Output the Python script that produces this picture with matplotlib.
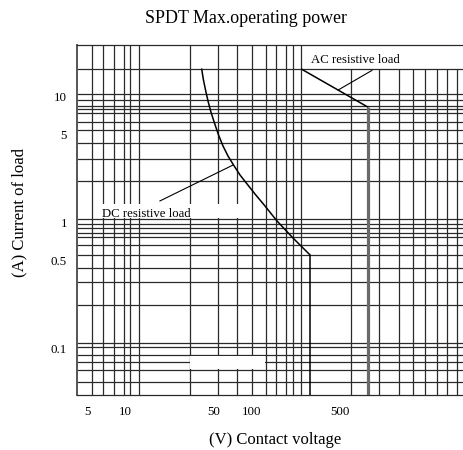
import matplotlib
matplotlib.use("Agg")
import matplotlib.pyplot as plt
from matplotlib.patches import Rectangle

plt.rcParams['font.family'] = ['Liberation Serif', 'DejaVu Serif']

title = "SPDT Max.operating power"
xlabel = "(V) Contact voltage"
ylabel = "(A) Current of load"
x_ticks = [5, 10, 50, 100, 500]
x_ticklabels = ["5", "10", "50", "100", "500"]
y_ticks = [0.1, 0.5, 1, 5, 10]
y_ticklabels = ["0.1", "0.5", "1", "5", "10"]
x_lim = (4.14, 4760)
y_lim = (0.0428, 25.7)

# vertical grid lines reaching the top border
v_grid_full = [5.44, 6.68, 8.25, 9.86, 11.0, 12.8, 32.5, 54.2, 77.7, 102,
               131.5, 158, 188, 215, 248]
# vertical grid lines starting from the upper band line
v_grid_lower = [617, 1022, 1486, 1922, 2379, 2946, 3587, 4266]
band_top = 16.5
h_grid = [16.5, 10.45, 9.42, 8.44, 7.94, 7.46, 6.33, 5.44, 4.27, 3.18, 2.15,
          1.063, 0.975, 0.902, 0.832, 0.765, 0.665, 0.554, 0.434, 0.340,
          0.222, 0.1114, 0.1024, 0.0889, 0.0787, 0.0676, 0.0546]

# DC resistive load curve
dc_v = [40.5, 41.8, 43.4, 45.4, 47.9, 51.1, 55.0, 59.7, 65.4, 72.3, 81.4,
        92.5, 106.9, 128.4, 159.8, 214.0, 292, 292]
dc_i = [16.5, 13.57, 11.31, 9.25, 7.56, 6.18, 4.97, 4.06, 3.38, 2.87, 2.39,
        2.03, 1.69, 1.356, 1.031, 0.755, 0.554, 0.0428]
# AC resistive load curve
ac_slope_v = [251, 836]
ac_slope_i = [16.5, 8.28]
ac_vert_v = [836, 836]
ac_vert_i = [8.28, 0.0428]

dc_leader_v = [18.9, 72.0]
dc_leader_i = [1.486, 2.87]
ac_leader_v = [489, 904]
ac_leader_i = [11.3, 16.15]

dc_label = ("DC resistive load", 6.53, 1.115)
ac_label = ("AC resistive load", 297, 18.62)

# blank areas (erased grid)
dc_box = (5.88, 82.9, 1.079, 1.394)
blank_box = (32.98, 129.6, 0.0685, 0.0878)

fig = plt.figure(figsize=(4.63, 4.50), dpi=100)
ax = fig.add_axes([76.7 / 463, 1 - 395 / 450, 1 - 76.7 / 463, (395 - 45) / 450])
ax.set_xscale('log')
ax.set_yscale('log')
ax.set_xlim(*x_lim)
ax.set_ylim(*y_lim)

gc = '#2a2a2a'
glw = 0.9
for x in v_grid_full:
    ax.plot([x, x], [y_lim[0], y_lim[1]], color=gc, lw=glw, zorder=1, solid_capstyle='butt')
for x in v_grid_lower:
    ax.plot([x, x], [y_lim[0], band_top], color=gc, lw=glw, zorder=1, solid_capstyle='butt')
for y in h_grid:
    ax.plot([x_lim[0], x_lim[1]], [y, y], color=gc, lw=glw, zorder=1, solid_capstyle='butt')

for (x0, x1, y0, y1) in [dc_box, blank_box]:
    ax.add_patch(Rectangle((x0, y0), x1 - x0, y1 - y0, facecolor='white',
                           edgecolor='none', zorder=2))

ax.plot(dc_v, dc_i, color='black', lw=1.1, zorder=3)
ax.plot(ac_slope_v, ac_slope_i, color='black', lw=1.1, zorder=3)
ax.plot(ac_vert_v, ac_vert_i, color='#6a6a6a', lw=2.3, zorder=3, solid_capstyle='butt')
ax.plot(dc_leader_v, dc_leader_i, color='black', lw=0.8, zorder=3)
ax.plot(ac_leader_v, ac_leader_i, color='black', lw=0.8, zorder=3)

for (t, x, y) in [dc_label, ac_label]:
    ax.text(x, y, t, fontsize=9.2, ha='left', va='baseline', zorder=4)

ax.set_xticks(x_ticks)
ax.set_xticklabels(x_ticklabels)
ax.set_yticks(y_ticks)
ax.set_yticklabels(y_ticklabels)
ax.minorticks_off()
ax.tick_params(axis='both', length=0, labelsize=9.4)
ax.tick_params(axis='x', pad=8)
ax.tick_params(axis='y', pad=7)

ax.spines['right'].set_visible(False)
ax.spines['left'].set_color('#555555')
ax.spines['left'].set_linewidth(1.4)
for s in ['top', 'bottom']:
    ax.spines[s].set_color(gc)
    ax.spines[s].set_linewidth(0.9)

fig.text(246 / 463, 1 - 23 / 450, title, fontsize=12.9, ha='center', va='baseline')
fig.text(275.5 / 463, 1 - 440 / 450, xlabel, fontsize=12, ha='center', va='center')
fig.text(19 / 463, 1 - 212.5 / 450, ylabel, fontsize=12, ha='center', va='center', rotation=90)

fig.savefig('out.png', dpi=100)
